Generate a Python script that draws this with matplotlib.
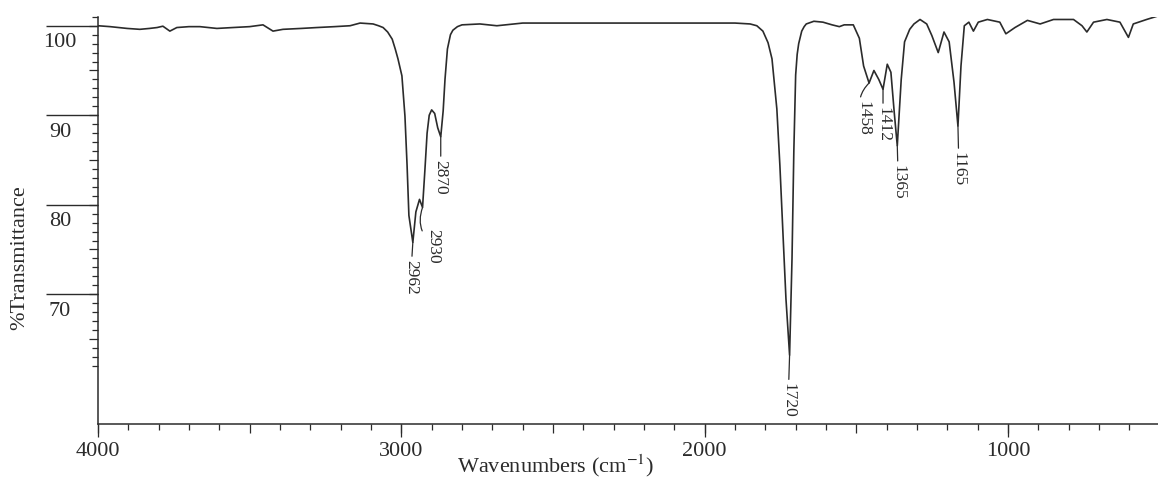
import matplotlib
matplotlib.use("Agg")
import matplotlib.pyplot as plt
from matplotlib import transforms
from matplotlib.ticker import FixedLocator

plt.rcParams['font.family'] = ['Liberation Serif', 'DejaVu Serif']
plt.rcParams['mathtext.fontset'] = 'stix'

# spectrum (cm^-1, %T)
wavenumber = [
    4000, 3960, 3904, 3862, 3830, 3805, 3786, 3763, 3740, 3700,
    3664, 3608, 3555, 3500, 3456, 3423, 3390, 3330, 3278, 3220,
    3169, 3136, 3093, 3075, 3060, 3045, 3030, 3020, 3011, 2998,
    2988, 2981, 2975, 2962, 2952, 2940, 2930, 2922, 2915, 2908,
    2900, 2890, 2880, 2870, 2862, 2856, 2848, 2838, 2830, 2815,
    2800, 2741, 2685, 2600, 2400, 2200, 2000, 1900, 1850, 1828,
    1808, 1791, 1778, 1762, 1752, 1742, 1732, 1720, 1712, 1706,
    1700, 1695, 1690, 1680, 1672, 1665, 1640, 1610, 1580, 1556,
    1540, 1510, 1490, 1476, 1458, 1442, 1426, 1412, 1398, 1386,
    1375, 1365, 1352, 1341, 1324, 1310, 1290, 1268, 1251, 1230,
    1211, 1194, 1178, 1165, 1155, 1144, 1129, 1114, 1098, 1068,
    1027, 1007, 977, 936, 894, 850, 784, 756, 740, 718,
    674, 631, 603, 587, 543, 505,
]
transmittance = [
    100.0, 99.9, 99.7, 99.6, 99.7, 99.8, 99.95, 99.4, 99.8, 99.9,
    99.9, 99.7, 99.8, 99.9, 100.1, 99.4, 99.6, 99.7, 99.8, 99.9,
    100.0, 100.3, 100.2, 100.0, 99.8, 99.3, 98.5, 97.4, 96.3, 94.4,
    89.9, 84.4, 78.8, 75.8, 79.2, 80.6, 79.7, 84.0, 88.0, 90.0,
    90.6, 90.2, 88.6, 87.6, 90.5, 94.0, 97.4, 99.0, 99.5, 99.9,
    100.1, 100.2, 100.0, 100.3, 100.3, 100.3, 100.3, 100.3, 100.2, 100.0,
    99.4, 98.1, 96.3, 90.7, 84.4, 76.9, 69.5, 63.2, 74.0, 86.0,
    94.5, 96.8, 98.0, 99.4, 99.9, 100.2, 100.5, 100.4, 100.1, 99.9,
    100.1, 100.1, 98.6, 95.5, 93.6, 95.0, 94.0, 92.9, 95.7, 94.8,
    90.3, 86.6, 94.0, 98.2, 99.6, 100.2, 100.7, 100.2, 98.9, 97.0,
    99.3, 98.2, 93.7, 88.8, 95.5, 100.0, 100.4, 99.4, 100.4, 100.7,
    100.4, 99.1, 99.8, 100.6, 100.2, 100.7, 100.7, 100.0, 99.3, 100.4,
    100.7, 100.4, 98.7, 100.2, 100.7, 101.1,
]

peak_labels = ['2962', '2930', '2870', '1720', '1458', '1412', '1365', '1165']
x_ticks = [4000, 3000, 2000, 1000]
y_ticks = [100, 90, 80, 70]

ink = '#2b2b2b'

fig = plt.figure(figsize=(11.58, 4.81), dpi=100)
ax = fig.add_axes([0.0846, 0.1164, 0.9154, 0.8466])
ax.plot(wavenumber, transmittance, color=ink, lw=1.2, solid_joinstyle='round')

ax.set_xlim(4000, 505.5)
ax.set_ylim(55.5, 101.0)

for side in ('top', 'right'):
    ax.spines[side].set_visible(False)
for side in ('left', 'bottom'):
    ax.spines[side].set_color(ink)
    ax.spines[side].set_linewidth(1.1)

# three tick levels on each axis
ax.xaxis.set_major_locator(FixedLocator(range(1000, 4001, 500)))
ax.xaxis.set_minor_locator(FixedLocator(range(600, 4001, 100)))
ax.yaxis.set_major_locator(FixedLocator(range(65, 101, 5)))
ax.yaxis.set_minor_locator(FixedLocator(range(62, 102)))
ax.tick_params(which='major', direction='out', length=6.5, width=0.9, color=ink,
               labelbottom=False, labelleft=False)
ax.tick_params(which='minor', direction='out', length=4.0, width=0.9, color=ink)

secx = ax.secondary_xaxis('bottom')
secx.set_xticks(x_ticks)
secx.set_xticklabels([str(v) for v in x_ticks])
secx.tick_params(length=9, width=0.9, color=ink, labelsize=16, labelcolor=ink, pad=3)
secx.spines['bottom'].set_visible(False)

secy = ax.secondary_yaxis('left')
secy.set_yticks(y_ticks)
secy.set_yticklabels([])
secy.tick_params(length=37.5, width=1.0, color=ink)
secy.spines['left'].set_visible(False)

# y labels sit under their long tick marks
ytrans = transforms.blended_transform_factory(fig.transFigure, ax.transData) + \
    transforms.ScaledTranslation(0, -0.16, fig.dpi_scale_trans)
for v in y_ticks:
    ax.text(60 / 1158, v, str(v), transform=ytrans, ha='center', va='center',
            fontsize=16, color=ink)

fig.text(20 / 1158, 0.4636, '%Transmittance', rotation=90, ha='center',
         va='center', fontsize=16, color=ink)
fig.text(555 / 1158, 0.031, 'Wavenumbers (cm$^{-1}$)', ha='center',
         va='center', fontsize=16, color=ink)

# peak annotations
label_offsets = [(-1.5, -12), (7.5, -14.5), (0, -16), (-1, -19.5),
                 (-4.3, -12), (0, -12), (0.7, -13), (0.7, -18)]
curly = ['2930', '1458']
for lab, (dx, dy) in zip(peak_labels, label_offsets):
    w = int(lab)
    t = transmittance[wavenumber.index(w)]
    style = 'arc3,rad=-0.35' if lab in curly else 'arc3'
    ax.annotate(lab, xy=(w, t), xytext=(dx, dy), textcoords='offset points',
                rotation=270, ha='center', va='top', fontsize=12.5, color=ink,
                arrowprops=dict(arrowstyle='-', color=ink, lw=0.9,
                                shrinkA=0, shrinkB=0, connectionstyle=style))

fig.savefig('out.png', dpi=100)
